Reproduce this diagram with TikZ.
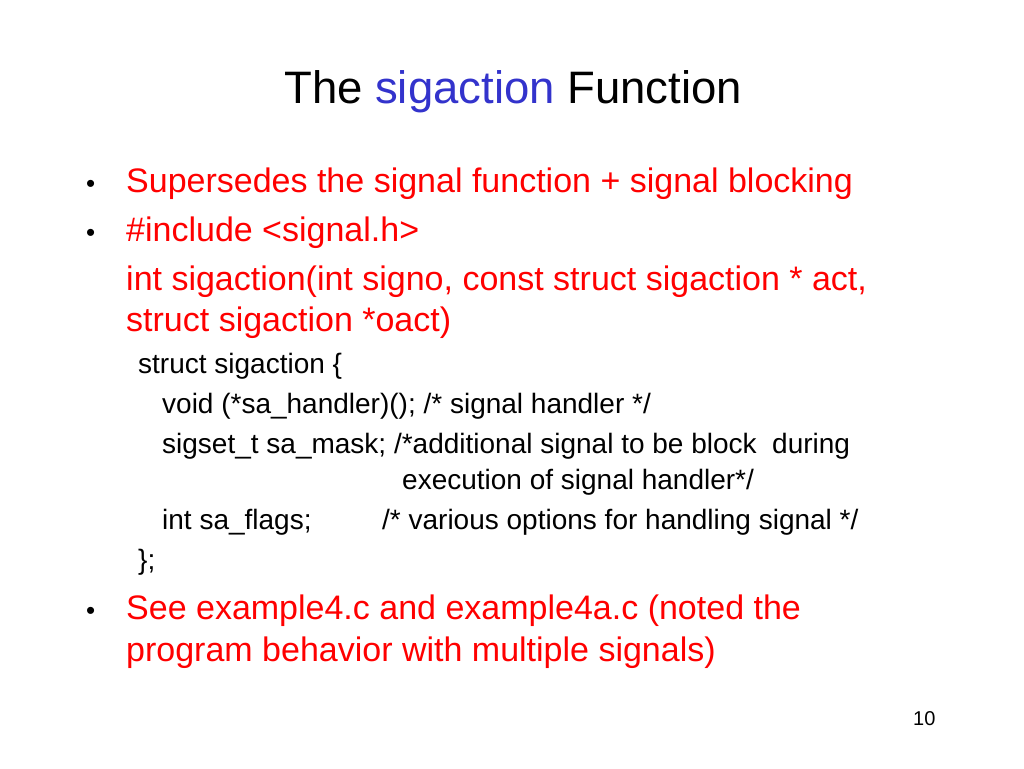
\documentclass[tikz,border=0pt]{standalone}
\usepackage{fontspec}
\setmainfont{Liberation Sans}
\definecolor{tblue}{RGB}{51,51,204}
\definecolor{tred}{RGB}{255,0,0}
\begin{document}
\begin{tikzpicture}[x=1pt,y=1pt,
  t/.style={anchor=base west,inner sep=0pt},
  big/.style={t,font=\fontsize{34}{34}\selectfont},
  bul/.style={t,font=\fontsize{26}{26}\selectfont},
  small/.style={t,font=\fontsize{28}{28}\selectfont}]
\useasboundingbox[fill=white] (0,0) rectangle (1024,768);
\node[t,font=\fontsize{45.5}{45.5}\selectfont] (title) at (284,664) {The \textcolor{tblue}{sigaction} Function};
\node[bul] (b1) at (86,575) {•};
\node[big,tred] (l1) at (126,575) {Supersedes the signal function + signal blocking};
\node[bul] (b2) at (86,526) {•};
\node[big,tred] (l2) at (126,526) {\#include <signal.h>};
\node[big,tred] (l3) at (126,477) {int sigaction(int signo, const struct sigaction * act,};
\node[big,tred] (l4) at (126,436) {struct sigaction *oact)};
\node[small] (c1) at (138,394) {struct sigaction \{};
\node[small] (c2) at (162,354) {void (*sa\_handler)(); /* signal handler */};
\node[small] (c3) at (162,314) {sigset\_t sa\_mask; /*additional signal to be block\ \ during};
\node[small] (c4) at (402,278) {execution of signal handler*/};
\node[small] (c5) at (162,238) {int sa\_flags;};
\node[small] (c6) at (382,238) {/* various options for handling signal */};
\node[small] (c7) at (138,198) {\};};
\node[bul] (b3) at (86,148) {•};
\node[big,tred] (l5) at (126,148) {See example4.c and example4a.c (noted the};
\node[big,tred] (l6) at (126,107) {program behavior with multiple signals)};
\node[t,font=\fontsize{20}{20}\selectfont] (pg) at (913,43) {10};
\end{tikzpicture}
\end{document}
